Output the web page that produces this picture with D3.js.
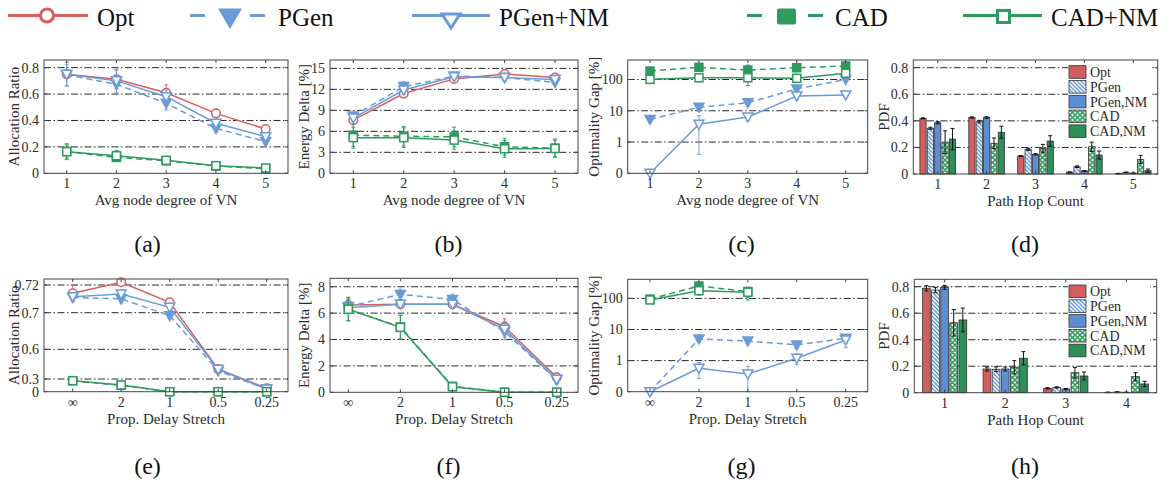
<!DOCTYPE html>
<html><head><meta charset="utf-8">
<script src="https://cdn.jsdelivr.net/npm/d3@7"></script>
<style>
body{margin:0;background:#fff;}
svg{display:block;font-family:"Liberation Serif","Times New Roman",serif;}
</style></head><body>
<svg id="c" width="1175" height="485"></svg>
<script>
// ================= DATA =================
const seriesNames = ["Opt","PGen","PGen+NM","CAD","CAD+NM"];
const barNames = ["Opt","PGen","PGen,NM","CAD","CAD,NM"];
const degreeCats = ["1","2","3","4","5"];
const stretchCats = ["\u221E","2","1","0.5","0.25"];
const hopCatsD = ["1","2","3","4","5"];
const hopCatsH = ["1","2","3","4"];

// tick values / labels
const yTicksA = [0,0.2,0.4,0.6,0.8];
const yTicksB = [0,3,6,9,12,15];
const yTicksC = [0,1,10,100];
const yTicksD = [0,0.2,0.4,0.6,0.8];
const yTicksE = [0,0.3,0.6,0.7,0.72];
const yTicksF = [0,2,4,6,8];
const yTicksG = [0,1,10,100];
const yTicksH = [0,0.2,0.4,0.6,0.8];

// (a) Allocation ratio vs avg node degree
const aOpt     = [0.75, 0.712, 0.61, 0.454, 0.335];
const aOptErr  = [0.03, 0.07, 0.06, 0.03, 0.02];
const aPGen    = [0.745, 0.674, 0.53, 0.34, 0.24];
const aPGenErr = [0.08, 0.07, 0.05, 0.03, 0.02];
const aPGenNM    = [0.75, 0.70, 0.58, 0.379, 0.277];
const aPGenNMErr = [0.09, 0.09, 0.05, 0.03, 0.02];
const aCAD     = [0.165, 0.12, 0.095, 0.055, 0.035];
const aCADErr  = [0.05, 0.03, 0.03, 0.01, 0.01];
const aCADNM    = [0.164, 0.133, 0.098, 0.058, 0.04];
const aCADNMErr = [0.06, 0.04, 0.03, 0.01, 0.01];

// (b) Energy delta vs avg node degree
const bOpt     = [7.6, 11.4, 13.5, 14.2, 13.7];
const bOptErr  = [0.4, 0.5, 0.4, 0.3, 0.3];
const bPGen    = [8.2, 12.4, 13.9, 13.7, 13.0];
const bPGenErr = [0.5, 0.7, 0.4, 0.4, 0.4];
const bPGenNM    = [7.9, 11.9, 13.8, 13.7, 13.4];
const bPGenNMErr = [0.5, 0.6, 0.4, 0.6, 0.4];
const bCAD     = [5.45, 5.3, 5.2, 3.8, 3.6];
const bCADErr  = [1.6, 1.4, 1.4, 1.2, 1.3];
const bCADNM    = [5.1, 5.1, 4.75, 3.5, 3.55];
const bCADNMErr = [1.5, 1.4, 1.3, 1.2, 1.2];

// (c) Optimality gap vs avg node degree (0 drawn at the "0" baseline)
const cPGen    = [5.3, 12.9, 18, 50, 100];
const cPGenErr = [1, 2, 3, 8, 15];
const cPGenNM    = [0, 3.7, 6.3, 29.7, 32];
const cPGenNMErr = [0, 3.3, 1.5, 7, 5];
const cCAD     = [186, 245, 200, 238, 270];
const cCADErr  = [40, 60, 90, 60, 60];
const cCADNM    = [101, 114, 114, 109, 158];
const cCADNMErr = [20, 30, 50, 30, 20];

// (d) PDF of path hop count (avg node degree)
const dOpt     = [0.419, 0.425, 0.135, 0.013, 0.003];
const dOptErr  = [0.004, 0.005, 0.004, 0.003, 0.002];
const dPGen    = [0.344, 0.394, 0.186, 0.055, 0.012];
const dPGenErr = [0.008, 0.01, 0.008, 0.006, 0.003];
const dPGenNM    = [0.386, 0.425, 0.148, 0.023, 0.006];
const dPGenNMErr = [0.008, 0.006, 0.005, 0.003, 0.002];
const dCAD     = [0.24, 0.231, 0.193, 0.205, 0.11];
const dCADErr  = [0.085, 0.04, 0.03, 0.035, 0.03];
const dCADNM    = [0.263, 0.314, 0.248, 0.143, 0.025];
const dCADNMErr = [0.08, 0.045, 0.04, 0.03, 0.012];

// (e) Allocation ratio vs prop. delay stretch
const eOpt     = [0.714, 0.722, 0.7075, 0.40, 0.08];
const eOptErr  = [0.006, 0.002, 0.002, 0.01, 0.01];
const ePGen    = [0.711, 0.710, 0.692, 0.381, 0.064];
const ePGenErr = [0.002, 0.003, 0.003, 0.01, 0.01];
const ePGenNM    = [0.7116, 0.7135, 0.7039, 0.398, 0.064];
const ePGenNMErr = [0.002, 0.003, 0.002, 0.01, 0.01];
const eCAD     = [0.26, 0.15, 0.0, 0.0, 0.0];
const eCADErr  = [0.02, 0.02, 0.0, 0.0, 0.0];
const eCADNM    = [0.26, 0.158, 0.0, 0.0, 0.0];
const eCADNMErr = [0.02, 0.02, 0.0, 0.0, 0.0];

// (f) Energy delta vs prop. delay stretch
const fOpt     = [6.61, 6.67, 6.67, 4.97, 1.14];
const fOptErr  = [0.4, 0.3, 0.3, 0.6, 0.3];
const fPGen    = [6.5, 7.42, 7.04, 4.59, 0.93];
const fPGenErr = [0.5, 0.4, 0.4, 0.6, 0.3];
const fPGenNM    = [6.41, 6.67, 6.67, 4.77, 0.98];
const fPGenNMErr = [0.4, 0.3, 0.3, 0.6, 0.3];
const fCAD     = [6.3, 4.95, 0.45, 0.0, 0.0];
const fCADErr  = [0.9, 0.9, 0.3, 0.0, 0.0];
const fCADNM    = [6.29, 4.92, 0.42, 0.0, 0.0];
const fCADNMErr = [0.85, 0.9, 0.3, 0.0, 0.0];

// (g) Optimality gap vs prop. delay stretch (null = not shown)
const gPGen    = [0, 4.95, 4.27, 3.2, 5.2];
const gPGenErr = [0, 0.8, 0.8, 0.8, 1.5];
const gPGenNM    = [0, 0.565, 0.37, 1.19, 4.6];
const gPGenNMErr = [0, 0.3, 0.28, 0.45, 2.0];
const gCAD     = [95, 250, 165, null, null];
const gCADErr  = [20, 40, 60, 0, 0];
const gCADNM    = [89, 177, 158, null, null];
const gCADNMErr = [15, 50, 70, 0, 0];

// (h) PDF of path hop count (prop. delay stretch)
const hOpt     = [0.788, 0.179, 0.033, 0.003];
const hOptErr  = [0.02, 0.015, 0.005, 0.002];
const hPGen    = [0.775, 0.177, 0.04, 0.005];
const hPGenErr = [0.02, 0.018, 0.005, 0.002];
const hPGenNM    = [0.795, 0.179, 0.028, 0.003];
const hPGenNMErr = [0.015, 0.015, 0.004, 0.002];
const hCAD     = [0.528, 0.192, 0.151, 0.121];
const hCADErr  = [0.1, 0.05, 0.04, 0.03];
const hCADNM    = [0.549, 0.26, 0.126, 0.066];
const hCADNMErr = [0.09, 0.05, 0.03, 0.02];

// ================= STYLE =================
const C_OPT = "#d6605f", C_PGEN = "#6b9bd7", C_CAD = "#2f9a5e";
const B_OPT = "#d25f5f", B_PGEN = "#5b8fd2", B_CAD = "#2e8f58";
const GRID_DASH = "7,2.5,1.5,2.5";
const TXT = "#2b2b2b";

const svg = d3.select("#c");
const defs = svg.append("defs");
// hatch patterns
const p1 = defs.append("pattern").attr("id","hatchPGen").attr("patternUnits","userSpaceOnUse")
  .attr("width",4).attr("height",4);
p1.append("rect").attr("width",4).attr("height",4).attr("fill","#fff");
p1.append("path").attr("d","M-1,-1 L5,5 M-1,3 L1,5 M3,-1 L5,1").attr("stroke",C_PGEN).attr("stroke-width",1.4);
const p2 = defs.append("pattern").attr("id","hatchCAD").attr("patternUnits","userSpaceOnUse")
  .attr("width",5).attr("height",5);
p2.append("rect").attr("width",5).attr("height",5).attr("fill","#fff");
p2.append("path").attr("d","M0,0 L5,5 M5,0 L0,5").attr("stroke","#3aa368").attr("stroke-width",1.6);

// ================= HELPERS =================
function frameAndAxes(g, box, x, y, yTicks, yLabels, xTickPos, xLabels, yTitle, yTitleX, xTitle) {
  const {L,R,T,B} = box;
  // gridlines
  yTicks.forEach((t,i)=>{ if(i===0) return;
    g.append("line").attr("x1",L).attr("x2",R).attr("y1",y(t)).attr("y2",y(t))
      .attr("stroke","#111").attr("stroke-width",0.9).attr("stroke-dasharray",GRID_DASH);
  });
  return function finish(){
    // frame
    g.append("rect").attr("x",L).attr("y",T).attr("width",R-L).attr("height",B-T)
      .attr("fill","none").attr("stroke","#444").attr("stroke-width",1);
    // y ticks
    yTicks.forEach((t,i)=>{
      const yy = y(t);
      g.append("line").attr("x1",L).attr("x2",L+3).attr("y1",yy).attr("y2",yy).attr("stroke","#444");
      g.append("line").attr("x1",R-3).attr("x2",R).attr("y1",yy).attr("y2",yy).attr("stroke","#444");
      g.append("text").attr("x",L-5).attr("y",yy).attr("dy","0.35em").attr("text-anchor","end")
        .attr("font-size",14).attr("fill",TXT).text(yLabels[i]);
    });
    xTickPos.forEach((xx,i)=>{
      g.append("line").attr("x1",xx).attr("x2",xx).attr("y1",B).attr("y2",B-3).attr("stroke","#444");
      g.append("line").attr("x1",xx).attr("x2",xx).attr("y1",T).attr("y2",T+3).attr("stroke","#444");
      g.append("text").attr("x",xx).attr("y",B+15).attr("text-anchor","middle")
        .attr("font-size",14).attr("fill",TXT).text(xLabels[i]);
    });
    g.append("text").attr("transform",`translate(${yTitleX},${(T+B)/2}) rotate(-90)`)
      .attr("dy","0.35em").attr("text-anchor","middle").attr("font-size",15).attr("fill",TXT).text(yTitle);
    g.append("text").attr("x",(L+R)/2).attr("y",B+32).attr("text-anchor","middle")
      .attr("font-size",15).attr("fill",TXT).text(xTitle);
  };
}

function drawMarker(g, type, cx, cy, color) {
  if (type==="circle") {
    g.append("circle").attr("cx",cx).attr("cy",cy).attr("r",4.3)
      .attr("fill","#fff").attr("stroke",color).attr("stroke-width",1.5);
  } else if (type==="triF" || type==="triO") {
    g.append("path").attr("d",`M${cx-5},${cy-4}L${cx+5},${cy-4}L${cx},${cy+5}Z`)
      .attr("fill", type==="triF"?color:"#fff").attr("stroke",color).attr("stroke-width",1.5)
      .attr("stroke-linejoin","miter");
  } else {
    g.append("rect").attr("x",cx-4).attr("y",cy-4).attr("width",8).attr("height",8)
      .attr("fill", type==="sqF"?color:"#fff").attr("stroke",color).attr("stroke-width",1.5);
  }
}

function linePanel(cfg) {
  const g = svg.append("g");
  const {L,R,T,B} = cfg.box;
  const x = d3.scalePoint(cfg.cats, [cfg.x0, cfg.x1]);
  const y = cfg.y;
  const yv = cfg.log ? (v => y(Math.max(v, 0.1))) : (v => y(v));
  const finish = frameAndAxes(g, cfg.box, x, yv, cfg.yTicks, cfg.yLabels,
    cfg.cats.map(c=>x(c)), cfg.cats, cfg.yTitle, cfg.yTitleX, cfg.xTitle);
  cfg.series.forEach(s=>{
    const pts = s.values.map((v,i)=>({c:cfg.cats[i], v, e:s.err[i]}));
    // error bars
    pts.forEach(p=>{ if(p.v==null || !p.e) return;
      const lo = cfg.log ? Math.max(p.v-p.e, 0.1) : Math.max(p.v-p.e, cfg.yMin ?? -Infinity);
      const hi = p.v+p.e, xx = x(p.c);
      g.append("line").attr("x1",xx).attr("x2",xx).attr("y1",yv(lo)).attr("y2",yv(hi))
        .attr("stroke",s.color).attr("stroke-width",1.1).attr("opacity",0.85);
      [lo,hi].forEach(q=>g.append("line").attr("x1",xx-2).attr("x2",xx+2).attr("y1",yv(q)).attr("y2",yv(q))
        .attr("stroke",s.color).attr("stroke-width",1.1).attr("opacity",0.85));
    });
    const line = d3.line().defined(p=>p.v!=null).x(p=>x(p.c)).y(p=>yv(p.v));
    g.append("path").attr("d",line(pts)).attr("fill","none").attr("stroke",s.color)
      .attr("stroke-width",1.5).attr("stroke-dasharray", s.dashed ? "6,4" : null);
    pts.forEach(p=>{ if(p.v==null) return; drawMarker(g, s.marker, x(p.c), yv(p.v), s.color); });
  });
  finish();
}

function barPanel(cfg) {
  const g = svg.append("g");
  const {L,R,T,B} = cfg.box;
  const x = d3.scaleBand(cfg.cats, [L,R]).paddingInner(0.27).paddingOuter(0.135);
  const xs = d3.scaleBand(barNames, [0, x.bandwidth()]).paddingInner(0.15);
  const y = cfg.y;
  const finish = frameAndAxes(g, cfg.box, x, y, cfg.yTicks, cfg.yLabels,
    cfg.cats.map(c=>x(c)+x.bandwidth()/2), cfg.cats, cfg.yTitle, cfg.yTitleX, cfg.xTitle);
  const fills = ["#d25f5f","url(#hatchPGen)","#5b8fd2","url(#hatchCAD)","#2e8f58"];
  cfg.series.forEach((s,k)=>{
    s.values.forEach((v,i)=>{
      const bx = x(cfg.cats[i]) + xs(barNames[k]);
      g.append("rect").attr("x",bx).attr("y",y(v)).attr("width",xs.bandwidth()).attr("height",y(0)-y(v))
        .attr("fill",fills[k]).attr("stroke","#333").attr("stroke-width",0.8);
    });
  });
  cfg.series.forEach((s,k)=>{
    s.values.forEach((v,i)=>{
      const cx = x(cfg.cats[i]) + xs(barNames[k]) + xs.bandwidth()/2;
      const lo = Math.max(0, v - s.err[i]), hi = v + s.err[i];
      g.append("line").attr("x1",cx).attr("x2",cx).attr("y1",y(lo)).attr("y2",y(hi)).attr("stroke","#111").attr("stroke-width",1);
      [lo,hi].forEach(q=>g.append("line").attr("x1",cx-2).attr("x2",cx+2).attr("y1",y(q)).attr("y2",y(q)).attr("stroke","#111").attr("stroke-width",1));
    });
  });
  // legend
  const lx = cfg.legendX, ly = T + 5;
  g.append("rect").attr("x",lx-1).attr("y",ly).attr("width",82).attr("height",74).attr("fill","#fff");
  barNames.forEach((n,k)=>{
    const cy = ly + 7 + k*14.8;
    g.append("rect").attr("x",lx).attr("y",cy-6.3).attr("width",17).attr("height",12.6)
      .attr("fill",fills[k]).attr("stroke","#333").attr("stroke-width",0.8);
    g.append("text").attr("x",lx+21).attr("y",cy).attr("dy","0.35em").attr("font-size",14)
      .attr("fill",TXT).text(n);
  });
  finish();
}

function stdSeries(v) {
  return [
    {name:"Opt", values:v[0], err:v[1], color:C_OPT, dashed:false, marker:"circle"},
    {name:"PGen", values:v[2], err:v[3], color:C_PGEN, dashed:true, marker:"triF"},
    {name:"PGen+NM", values:v[4], err:v[5], color:C_PGEN, dashed:false, marker:"triO"},
    {name:"CAD", values:v[6], err:v[7], color:C_CAD, dashed:true, marker:"sqF"},
    {name:"CAD+NM", values:v[8], err:v[9], color:C_CAD, dashed:false, marker:"sqO"}
  ];
}
function gapSeries(v) {
  return [
    {name:"PGen", values:v[0], err:v[1], color:C_PGEN, dashed:true, marker:"triF"},
    {name:"PGen+NM", values:v[2], err:v[3], color:C_PGEN, dashed:false, marker:"triO"},
    {name:"CAD", values:v[4], err:v[5], color:C_CAD, dashed:true, marker:"sqF"},
    {name:"CAD+NM", values:v[6], err:v[7], color:C_CAD, dashed:false, marker:"sqO"}
  ];
}
const fmt = t => String(t);

// ================= TOP ROW =================
let box = {L:44,R:288,T:60,B:173.3};
linePanel({box, x0:66.7, x1:265.7, cats:degreeCats, y:d3.scaleLinear([0,0.858],[box.B,box.T]),
  yTicks:yTicksA, yLabels:yTicksA.map(fmt), yMin:0, yTitle:"Allocation Ratio", yTitleX:14, xTitle:"Avg node degree of VN",
  series:stdSeries([aOpt,aOptErr,aPGen,aPGenErr,aPGenNM,aPGenNMErr,aCAD,aCADErr,aCADNM,aCADNMErr])});

box = {L:330,R:578,T:60,B:173.3};
linePanel({box, x0:353.3, x1:555, cats:degreeCats, y:d3.scaleLinear([0,16.2],[box.B,box.T]),
  yTicks:yTicksB, yLabels:yTicksB.map(fmt), yMin:0, yTitle:"Energy Delta [%]", yTitleX:304, xTitle:"Avg node degree of VN",
  series:stdSeries([bOpt,bOptErr,bPGen,bPGenErr,bPGenNM,bPGenNMErr,bCAD,bCADErr,bCADNM,bCADNMErr])});

box = {L:627.7,R:867.7,T:60,B:173.3};
linePanel({box, x0:650, x1:845.7, cats:degreeCats, log:true, y:d3.scaleLog([0.1,420],[box.B,box.T]),
  yTicks:yTicksC, yLabels:yTicksC.map(fmt), yTitle:"Optimality Gap [%]", yTitleX:594, xTitle:"Avg node degree of VN",
  series:gapSeries([cPGen,cPGenErr,cPGenNM,cPGenNMErr,cCAD,cCADErr,cCADNM,cCADNMErr])});

box = {L:913.3,R:1157.7,T:60,B:174};
barPanel({box, cats:hopCatsD, y:d3.scaleLinear([0,0.858],[box.B,box.T]), legendX:1069,
  yTicks:yTicksD, yLabels:yTicksD.map(fmt), yTitle:"PDF", yTitleX:884, xTitle:"Path Hop Count",
  series:[{values:dOpt,err:dOptErr},{values:dPGen,err:dPGenErr},{values:dPGenNM,err:dPGenNMErr},
          {values:dCAD,err:dCADErr},{values:dCADNM,err:dCADNMErr}]});

// ================= BOTTOM ROW =================
box = {L:44,R:288,T:279,B:391.7};
linePanel({box, x0:72.7, x1:266.7, cats:stretchCats,
  y:d3.scaleLinear([0,0.3,0.6,0.7,0.72,0.7243],[391.7,379,349.3,312.7,285,279]),
  yTicks:yTicksE, yLabels:yTicksE.map(fmt), yMin:0, yTitle:"Allocation Ratio", yTitleX:14, xTitle:"Prop. Delay Stretch",
  series:stdSeries([eOpt,eOptErr,ePGen,ePGenErr,ePGenNM,ePGenNMErr,eCAD,eCADErr,eCADNM,eCADNMErr])});

box = {L:330,R:578,T:278.3,B:392.3};
linePanel({box, x0:348.3, x1:556.7, cats:stretchCats, y:d3.scaleLinear([0,8.64],[box.B,box.T]),
  yTicks:yTicksF, yLabels:yTicksF.map(fmt), yMin:0, yTitle:"Energy Delta [%]", yTitleX:304, xTitle:"Prop. Delay Stretch",
  series:stdSeries([fOpt,fOptErr,fPGen,fPGenErr,fPGenNM,fPGenNMErr,fCAD,fCADErr,fCADNM,fCADNMErr])});

box = {L:627.7,R:867.7,T:279.3,B:391.7};
linePanel({box, x0:650, x1:845.7, cats:stretchCats, log:true, y:d3.scaleLog([0.1,411],[box.B,box.T]),
  yTicks:yTicksG, yLabels:yTicksG.map(fmt), yTitle:"Optimality Gap [%]", yTitleX:594, xTitle:"Prop. Delay Stretch",
  series:gapSeries([gPGen,gPGenErr,gPGenNM,gPGenNMErr,gCAD,gCADErr,gCADNM,gCADNMErr])});

box = {L:914.3,R:1156.7,T:279.3,B:392.7};
barPanel({box, cats:hopCatsH, y:d3.scaleLinear([0,0.856],[box.B,box.T]), legendX:1069,
  yTicks:yTicksH, yLabels:yTicksH.map(fmt), yTitle:"PDF", yTitleX:884, xTitle:"Path Hop Count",
  series:[{values:hOpt,err:hOptErr},{values:hPGen,err:hPGenErr},{values:hPGenNM,err:hPGenNMErr},
          {values:hCAD,err:hCADErr},{values:hCADNM,err:hCADNMErr}]});

// ================= PANEL LABELS =================
const panelLabels = ["(a)","(b)","(c)","(d)","(e)","(f)","(g)","(h)"];
const labelX = [147.5, 448.5, 741.5, 1025];
panelLabels.forEach((t,i)=>{
  svg.append("text").attr("x",labelX[i%4]).attr("y", i<4 ? 252 : 474).attr("text-anchor","middle")
    .attr("font-size",24).attr("fill","#111").text(t);
});

// ================= TOP LEGEND =================
const lg = svg.append("g");
const LY = 15.5;
// Opt
lg.append("line").attr("x1",8).attr("x2",88).attr("y1",LY).attr("y2",LY).attr("stroke",C_OPT).attr("stroke-width",3);
lg.append("circle").attr("cx",47).attr("cy",LY).attr("r",6.5).attr("fill","#fff").attr("stroke",C_OPT).attr("stroke-width",3);
// PGen
lg.append("line").attr("x1",190).attr("x2",265).attr("y1",LY).attr("y2",LY).attr("stroke",C_PGEN).attr("stroke-width",3).attr("stroke-dasharray","15,45,15");
lg.append("path").attr("d",`M218,8.5L242,8.5L230,29Z`).attr("fill",C_PGEN);
// PGen+NM
lg.append("line").attr("x1",412).attr("x2",490).attr("y1",LY).attr("y2",LY).attr("stroke",C_PGEN).attr("stroke-width",3);
lg.append("path").attr("d",`M442,14L460,14L451,28Z`).attr("fill","#fff").attr("stroke",C_PGEN).attr("stroke-width",3);
// CAD
lg.append("line").attr("x1",747).attr("x2",823).attr("y1",LY).attr("y2",LY).attr("stroke",C_CAD).attr("stroke-width",3).attr("stroke-dasharray","15,46,15");
lg.append("rect").attr("x",777).attr("y",8.5).attr("width",19).attr("height",16).attr("rx",2).attr("fill",C_CAD);
// CAD+NM
lg.append("line").attr("x1",963).attr("x2",1042).attr("y1",LY).attr("y2",LY).attr("stroke",C_CAD).attr("stroke-width",3);
lg.append("rect").attr("x",997.5).attr("y",10.5).attr("width",12).attr("height",12).attr("fill","#fff").attr("stroke",C_CAD).attr("stroke-width",3);
const legX = [97, 278, 499, 835, 1051];
seriesNames.forEach((n,i)=>{
  lg.append("text").attr("x",legX[i]).attr("y",25.5).attr("font-size",25).attr("fill","#111").text(n);
});
</script>
</body></html>
